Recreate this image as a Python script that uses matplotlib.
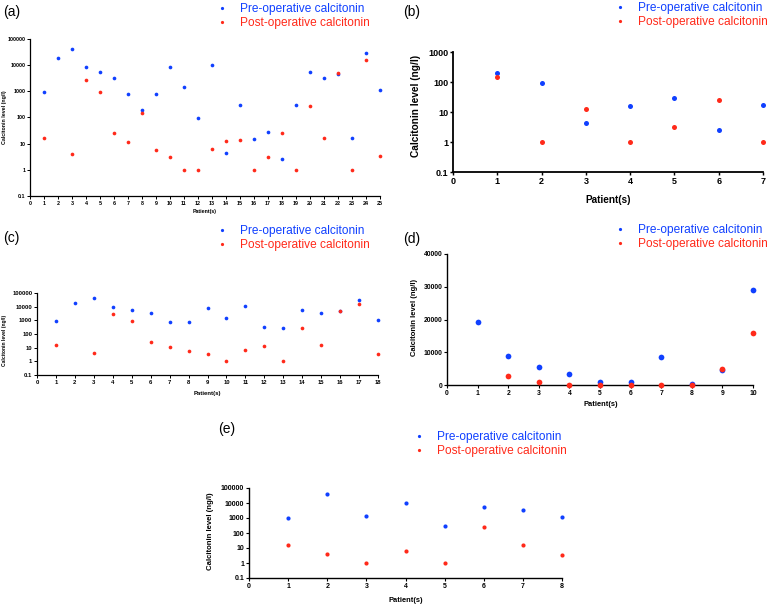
import numpy as np
import matplotlib
matplotlib.use('Agg')
import matplotlib.pyplot as plt
from matplotlib.lines import Line2D
from matplotlib.ticker import FixedLocator, FuncFormatter, NullLocator

plt.rcParams['font.family'] = ['Liberation Sans', 'DejaVu Sans']

BLUE = '#1040ff'
RED = '#ff2a1a'
nan = np.nan

# Panel (a): all 25 patients
pre_a = [950, 19000, 41000, 8800, 5400, 3270, 810, 200, 820, 8600, 1460, 95, 10500,
         4.5, 310, 15.5, 29, 2.5, 295, 5400, 3200, 4650, 17, 29000, 1090]
post_a = [17, nan, 4, 2700, 940, 26, 12, 147, 5.7, 3.2, 1, 1, 6.4,
          13, 13.8, 1, 3.2, 26, 1, 265, 16.5, 5000, 1, 16000, 3.4]

# Panel (b)
pre_b = [205, 95, 4.4, 15.5, 28.5, 2.45, 17]
post_b = [147, 1, 13, 1, 3.2, 26, 1]

# Panel (c)
pre_c = [950, 19000, 41000, 8800, 5400, 3270, 810, 820, 8600, 1460, 10500, 310,
         295, 5400, 3200, 4650, 29000, 1090]
post_c = [17, nan, 4, 2700, 940, 26, 12, 5.7, 3.2, 1, 6.4, 13.8, 1, 265, 16.5, 5000,
          16000, 3.4]

# Panel (d), linear scale
pre_d = [19300, 8800, 5500, 3300, 850, 850, 8600, 400, 4700, 29000]
post_d = [nan, 2700, 940, 26, 12, 5.7, 3.2, 13.8, 5000, 16000]

# Panel (e)
pre_e = [950, 41000, 1460, 10500, 295, 5400, 3200, 1090]
post_e = [17, 4, 1, 6.4, 1, 265, 16.5, 3.4]

LOG_TICKS = [0.1, 1, 10, 100, 1000, 10000, 100000]

W, H = 770, 606
fig = plt.figure(figsize=(W / 100, H / 100), dpi=100)


def box(l, t, r, b):
    return [l / W, 1 - b / H, (r - l) / W, (b - t) / H]


def fx(x):
    return x / W


def fy(y):
    return 1 - y / H


def panel(rect, pre, post, ymax, log, ms, tick_fs, xl_fs, yl_fs, lw,
          ylab_xy, xlab_xy, tag, tag_xy, leg_xy):
    ax = fig.add_axes(box(*rect))
    n = len(pre)
    x = np.arange(1, n + 1)
    ax.scatter(x, pre, s=ms, color=BLUE, zorder=3, linewidths=0, clip_on=False)
    ax.scatter(x, post, s=ms, color=RED, zorder=3, linewidths=0, clip_on=False)
    ax.set_xlim(0, n)
    ax.xaxis.set_major_locator(FixedLocator(range(0, n + 1)))
    if log:
        ax.set_yscale('log')
        ax.set_ylim(0.1, ymax)
        ax.yaxis.set_major_locator(FixedLocator([t for t in LOG_TICKS if t <= ymax]))
        ax.yaxis.set_minor_locator(NullLocator())
        ax.yaxis.set_major_formatter(FuncFormatter(lambda v, p: '%g' % v))
    else:
        ax.set_ylim(0, ymax)
        ax.yaxis.set_major_locator(FixedLocator(range(0, ymax + 1, 10000)))
    for s in ['top', 'right']:
        ax.spines[s].set_visible(False)
    for s in ['left', 'bottom']:
        ax.spines[s].set_linewidth(lw)
    ax.tick_params(length=2.2, width=lw * 0.8, labelsize=tick_fs, pad=1.2)
    for t in ax.get_xticklabels() + ax.get_yticklabels():
        t.set_fontweight('bold')

    ax.set_ylabel('Calcitonin level (ng/l)', fontsize=yl_fs, fontweight='bold', va='center')
    ax.set_xlabel('Patient(s)', fontsize=xl_fs, fontweight='bold', va='center')
    inv = ax.transAxes.inverted()
    disp = fig.transFigure.transform
    ax.yaxis.set_label_coords(*inv.transform(disp((fx(ylab_xy[0]), fy(ylab_xy[1])))))
    ax.xaxis.set_label_coords(*inv.transform(disp((fx(xlab_xy[0]), fy(xlab_xy[1])))))

    fig.text(fx(tag_xy[0]), fy(tag_xy[1]), tag, fontsize=10, va='center', ha='left')

    handles = [Line2D([], [], ls='', marker='o', markersize=2.3, color=BLUE, mew=0),
               Line2D([], [], ls='', marker='o', markersize=2.3, color=RED, mew=0)]
    leg = fig.legend(handles, ['Pre-operative calcitonin', 'Post-operative calcitonin'],
                     loc='upper left', bbox_to_anchor=(fx(leg_xy[0]), fy(leg_xy[1])),
                     frameon=False, fontsize=8.6, handlelength=1.0, handletextpad=1.0,
                     labelspacing=0.15, borderpad=0, borderaxespad=0)
    for txt, c in zip(leg.get_texts(), [BLUE, RED]):
        txt.set_color(c)
    return ax


panel((30, 39, 380, 196), pre_a, post_a, 100000, True, 7, 3.9, 3.8, 3.8, 0.9,
      (5, 117), (205, 212), '(a)', (3, 12), (216, 3))
panel((453, 52, 763, 172), pre_b, post_b, 1000, True, 13, 6.5, 7.2, 7.3, 1.3,
      (416, 106), (608, 200), '(b)', (403, 12), (614, 2))
panel((37, 293, 378, 375), pre_c, post_c, 100000, True, 7, 4.2, 4.3, 3.6, 0.9,
      (5, 340), (207, 393), '(c)', (3, 238), (216, 225))
panel((447, 254, 753, 385), pre_d, post_d, 40000, False, 17, 4.9, 5.4, 5.5, 1.0,
      (415, 317), (601, 405), '(d)', (403, 239), (614, 224))
panel((249, 488, 562, 578), pre_e, post_e, 100000, True, 9, 5.0, 5.4, 5.6, 1.0,
      (211, 531), (406, 600), '(e)', (218, 429), (413, 431))

fig.savefig('out.png', dpi=100)
